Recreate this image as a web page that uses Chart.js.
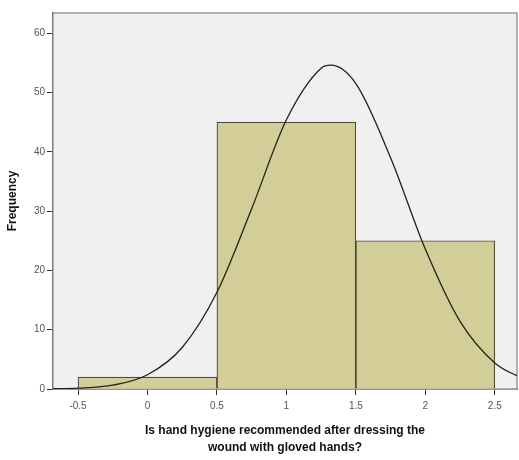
<!DOCTYPE html>
<html lang="en">
<head>
    <meta charset="UTF-8">
    <script src="https://cdn.jsdelivr.net/npm/chart.js"></script>
    <title>Histogram</title>
    <style>
    body { margin: 0; background-color: white; }
    #wrap { width: 519px; height: 460px; }
</style>
</head>
<body>
    <div id="wrap"><canvas id="histChart"></canvas></div>

    <script>
        // Histogram bins (centres) and their counts
        const binCenters = [0, 1, 2];
        const frequencies = [2, 45, 25];

        // Normal curve
        const curveX = [-0.7, -0.5, -0.25, 0, 0.25, 0.5, 0.75, 1, 1.25, 1.32, 1.5, 1.75, 2, 2.25, 2.5, 2.7];
        const curveY = [0.03, 0.14, 0.64, 2.4, 7.0, 16.3, 30.4, 45.4, 54.1, 54.6, 51.5, 39.0, 23.6, 11.4, 4.4, 1.75];

        // Axis ticks
        const xTicks = [-0.5, 0, 0.5, 1, 1.5, 2, 2.5];
        const yTicks = [0, 10, 20, 30, 40, 50, 60];

        const xTitle = ['Is hand hygiene recommended after dressing the', 'wound with gloved hands?'];
        const yTitle = 'Frequency';

        const xMin = -0.68, xMax = 2.66;

        // Grey plot background and frame
        const plotFrame = {
            id: 'plotFrame',
            beforeDatasetsDraw(chart) {
                const { ctx, chartArea: a } = chart;
                ctx.save();
                ctx.fillStyle = '#f0f0f0';
                ctx.fillRect(a.left, a.top, a.right - a.left, a.bottom - a.top);
                ctx.strokeStyle = '#9a9a9a';
                ctx.lineWidth = 1.5;
                ctx.strokeRect(a.left, a.top, a.right - a.left, a.bottom - a.top);
                ctx.restore();
            }
        };

        const tickFont = { family: 'Liberation Sans, Arial, sans-serif', size: 10 };
        const titleFont = { family: 'Liberation Sans, Arial, sans-serif', size: 12, weight: 'bold', lineHeight: 1.4 };

        new Chart(document.getElementById('histChart'), {
            data: {
                datasets: [{
                    type: 'line',
                    data: curveX.map((x, i) => ({ x: x, y: curveY[i] })),
                    borderColor: '#22221c',
                    borderWidth: 1.3,
                    pointRadius: 0,
                    cubicInterpolationMode: 'monotone',
                    fill: false,
                    order: 0
                }, {
                    type: 'bar',
                    xAxisID: 'xb',
                    data: binCenters.map((x, i) => ({ x: x, y: frequencies[i] })),
                    backgroundColor: '#d3ce98',
                    borderColor: '#4e4d35',
                    borderWidth: 1.2,
                    grouped: false,
                    barPercentage: 1,
                    categoryPercentage: 1,
                    order: 1
                }]
            },
            options: {
                responsive: true,
                maintainAspectRatio: false,
                animation: false,
                layout: { padding: { top: 13, right: 2, left: 0, bottom: 0 } },
                plugins: {
                    legend: { display: false },
                    tooltip: { enabled: false }
                },
                scales: {
                    x: {
                        type: 'linear',
                        position: 'bottom',
                        offset: false,
                        min: xMin,
                        max: xMax,
                        afterBuildTicks: (scale) => { scale.ticks = xTicks.map(v => ({ value: v })); },
                        afterFit: (scale) => { scale.height = 71; },
                        grid: { display: true, drawOnChartArea: false, drawTicks: true, tickLength: 6, color: '#333' },
                        border: { color: '#222', width: 1.5 },
                        ticks: { font: tickFont, color: '#555', padding: 5, maxRotation: 0, callback: v => String(v) },
                        title: { display: true, text: xTitle, font: titleFont, color: '#111', padding: { top: 6 } }
                    },
                    // hidden axis for the bars, same range, bins one unit apart
                    xb: {
                        type: 'linear',
                        display: false,
                        offset: false,
                        min: xMin,
                        max: xMax,
                        afterBuildTicks: (scale) => { scale.ticks = binCenters.map(v => ({ value: v })); }
                    },
                    y: {
                        min: 0,
                        max: 63.4,
                        afterBuildTicks: (scale) => { scale.ticks = yTicks.map(v => ({ value: v })); },
                        afterFit: (scale) => { scale.width = 53; },
                        grid: { display: true, drawOnChartArea: false, drawTicks: true, tickLength: 6, color: '#333' },
                        border: { color: '#333', width: 1.5 },
                        ticks: { font: tickFont, color: '#555', padding: 2 },
                        title: { display: true, text: yTitle, font: titleFont, color: '#111', padding: { bottom: 4 } }
                    }
                }
            },
            plugins: [plotFrame]
        });
    </script>
</body>
</html>
